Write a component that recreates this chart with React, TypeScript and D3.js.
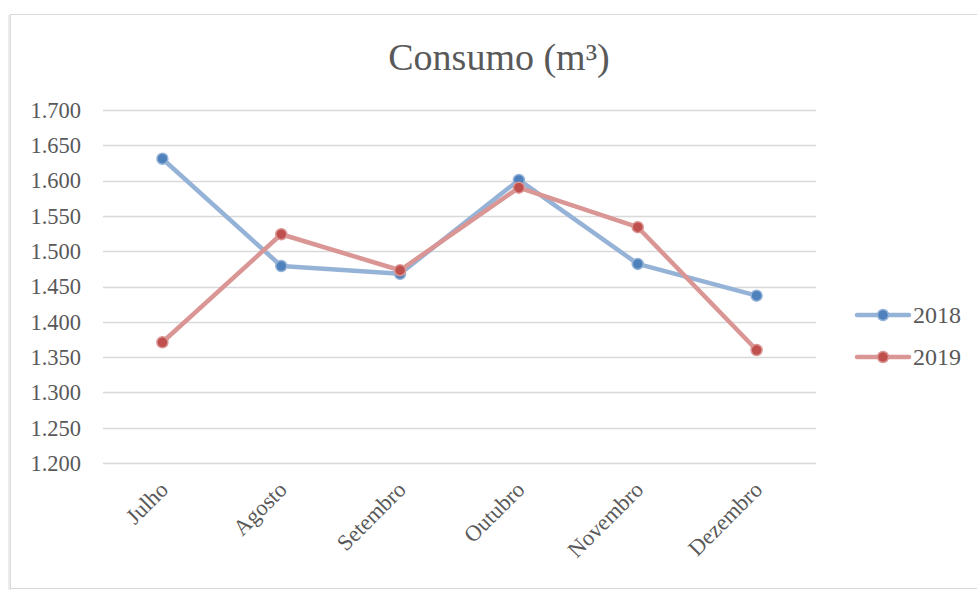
import React, { useEffect, useRef } from "react";
import * as d3 from "d3";

const months = ["Julho", "Agosto", "Setembro", "Outubro", "Novembro", "Dezembro"];
const values2018 = [1631, 1479, 1468, 1601, 1482, 1437];
const values2019 = [1371, 1524, 1473, 1590, 1534, 1360];
const yTicks = [1200, 1250, 1300, 1350, 1400, 1450, 1500, 1550, 1600, 1650, 1700];

const series = [
  { name: "2018", values: values2018, line: "#95b3d7", marker: "#4f81bd" },
  { name: "2019", values: values2019, line: "#d99694", marker: "#c0504d" },
];

const W = 977;
const H = 590;

export default function App() {
  const svgRef = useRef<SVGSVGElement | null>(null);

  useEffect(() => {
    if (!svgRef.current) return;
    const svg = d3.select(svgRef.current);
    svg.selectAll("*").remove();

    const font = "'Liberation Serif', 'Times New Roman', serif";
    const margin = { top: 110, left: 103, right: 161, bottom: 127 };

    // Chart frame with a faint shadow on the left
    svg
      .append("rect")
      .attr("x", 8)
      .attr("y", 15)
      .attr("width", 3)
      .attr("height", H)
      .attr("fill", "#ececec");
    svg
      .append("rect")
      .attr("x", 10.5)
      .attr("y", 14.5)
      .attr("width", W + 20)
      .attr("height", 574)
      .attr("fill", "#fff")
      .attr("stroke", "#d9d9d9");

    const x = d3
      .scaleBand<string>()
      .domain(months)
      .range([margin.left, W - margin.right]);

    const y = d3
      .scaleLinear()
      .domain([1200, 1700])
      .range([H - margin.bottom, margin.top]);

    const fmt = (v: number) => d3.format(".3f")(v / 1000);

    // Grid
    svg
      .append("g")
      .selectAll("line")
      .data(yTicks)
      .join("line")
      .attr("x1", margin.left)
      .attr("x2", W - margin.right)
      .attr("y1", (d) => Math.round(y(d)) + 0.5)
      .attr("y2", (d) => Math.round(y(d)) + 0.5)
      .attr("stroke", "#d9d9d9")
      .attr("stroke-width", 1.5);

    // Y labels
    svg
      .append("g")
      .selectAll("text")
      .data(yTicks)
      .join("text")
      .attr("x", 81)
      .attr("y", (d) => y(d))
      .attr("dy", "0.35em")
      .attr("text-anchor", "end")
      .attr("font-family", font)
      .attr("font-size", 22.5)
      .attr("fill", "#595959")
      .text((d) => fmt(d));

    // X labels
    svg
      .append("g")
      .selectAll("text")
      .data(months)
      .join("text")
      .attr(
        "transform",
        (d) => `translate(${(x(d) || 0) + x.bandwidth() / 2 + 7},${H - margin.bottom + 28}) rotate(-45)`
      )
      .attr("text-anchor", "end")
      .attr("font-family", font)
      .attr("font-size", 22.5)
      .attr("fill", "#595959")
      .text((d) => d);

    const cx = (i: number) => (x(months[i]) || 0) + x.bandwidth() / 2;
    const line = d3
      .line<number>()
      .x((_, i) => cx(i))
      .y((d) => y(d));

    series.forEach((s) => {
      svg
        .append("path")
        .datum(s.values)
        .attr("d", line)
        .attr("fill", "none")
        .attr("stroke", s.line)
        .attr("stroke-width", 4.5)
        .attr("stroke-linejoin", "round");
      svg
        .append("g")
        .selectAll("circle")
        .data(s.values)
        .join("circle")
        .attr("cx", (_, i) => cx(i))
        .attr("cy", (d) => y(d))
        .attr("r", 5.5)
        .attr("fill", s.marker)
        .attr("stroke", s.line)
        .attr("stroke-width", 1.5);
    });

    // Legend
    series.forEach((s, i) => {
      const ly = 315 + i * 42;
      const g = svg.append("g");
      g.append("line")
        .attr("x1", 857)
        .attr("x2", 909)
        .attr("y1", ly)
        .attr("y2", ly)
        .attr("stroke", s.line)
        .attr("stroke-width", 4.5)
        .attr("stroke-linecap", "round");
      g.append("circle")
        .attr("cx", 883)
        .attr("cy", ly)
        .attr("r", 5.5)
        .attr("fill", s.marker)
        .attr("stroke", s.line)
        .attr("stroke-width", 1.5);
      g.append("text")
        .attr("x", 913)
        .attr("y", ly)
        .attr("dy", "0.35em")
        .attr("font-family", font)
        .attr("font-size", 24)
        .attr("fill", "#595959")
        .text(s.name);
    });

    // Title
    svg
      .append("text")
      .attr("x", 499)
      .attr("y", 70)
      .attr("text-anchor", "middle")
      .attr("font-family", font)
      .attr("font-size", 38)
      .attr("fill", "#595959")
      .text("Consumo (m³)");
  }, []);

  return (
    <div style={{ position: "absolute", left: 0, top: 0 }}>
      <svg ref={svgRef} width={W} height={H} style={{ display: "block" }}></svg>
    </div>
  );
}
